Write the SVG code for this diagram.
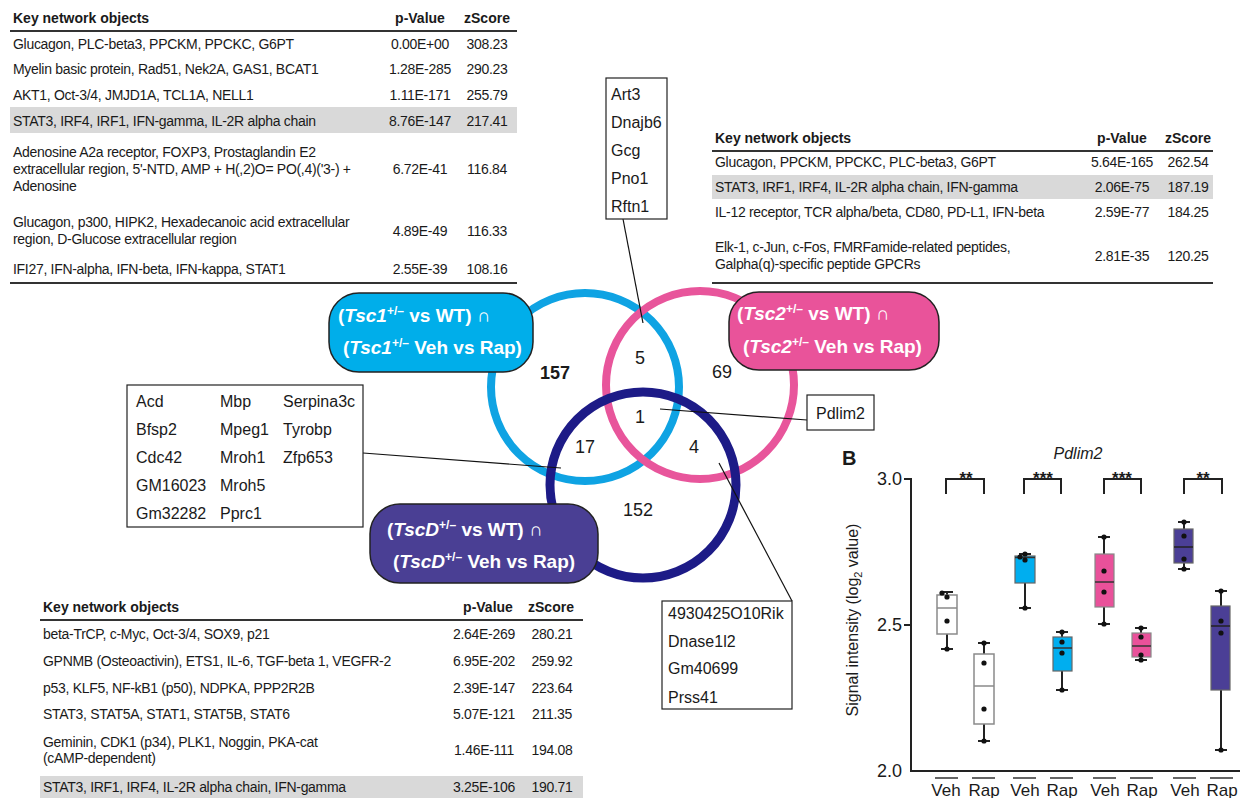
<svg xmlns="http://www.w3.org/2000/svg" width="1250" height="798" viewBox="0 0 1250 798">
<style>
text{font-family:"Liberation Sans",Arial,sans-serif;fill:#1a1a1a}
.t{font-size:14px;letter-spacing:-0.3px}
.h{font-size:14px;font-weight:bold}
.c{text-anchor:middle}
.rule{stroke:#333;stroke-width:2}
.band{fill:#d9d9d9}
.gene{font-size:16px}
.gbox{fill:#fff;stroke:#222;stroke-width:1.2}
.lbl{font-size:19px;font-weight:bold;fill:#fff}
.num{font-size:18px;text-anchor:middle}
.lead{stroke:#111;stroke-width:1.2;fill:none}
.ax{stroke:#222;stroke-width:2;fill:none}
.wh{stroke:#222;stroke-width:2;fill:none}
.dot{fill:#111}
.tick{font-size:18px;text-anchor:end}
.xl{font-size:17px;text-anchor:middle}
.star{font-size:17px;font-weight:bold;text-anchor:middle}
</style>

<!-- Table top-left -->
<g id="table-tsc1">
<text class="h" x="13" y="23">Key network objects</text>
<text class="h c" x="420" y="23">p-Value</text>
<text class="h c" x="487" y="23">zScore</text>
<line class="rule" x1="10" y1="31" x2="517" y2="31"/>
<rect class="band" x="10" y="107" width="507" height="26"/>
<text class="t" x="13" y="49">Glucagon, PLC-beta3, PPCKM, PPCKC, G6PT</text>
<text class="t c" x="420" y="49">0.00E+00</text><text class="t c" x="487" y="49">308.23</text>
<text class="t" x="13" y="74">Myelin basic protein, Rad51, Nek2A, GAS1, BCAT1</text>
<text class="t c" x="420" y="74">1.28E-285</text><text class="t c" x="487" y="74">290.23</text>
<text class="t" x="13" y="100">AKT1, Oct-3/4, JMJD1A, TCL1A, NELL1</text>
<text class="t c" x="420" y="100">1.11E-171</text><text class="t c" x="487" y="100">255.79</text>
<text class="t" x="13" y="126">STAT3, IRF4, IRF1, IFN-gamma, IL-2R alpha chain</text>
<text class="t c" x="420" y="126">8.76E-147</text><text class="t c" x="487" y="126">217.41</text>
<text class="t" x="13" y="157">Adenosine A2a receptor, FOXP3, Prostaglandin E2</text>
<text class="t" x="13" y="174">extracellular region, 5'-NTD, AMP + H(,2)O= PO(,4)('3-) +</text>
<text class="t" x="13" y="191">Adenosine</text>
<text class="t c" x="420" y="174">6.72E-41</text><text class="t c" x="487" y="174">116.84</text>
<text class="t" x="13" y="227">Glucagon, p300, HIPK2, Hexadecanoic acid extracellular</text>
<text class="t" x="13" y="244">region, D-Glucose extracellular region</text>
<text class="t c" x="420" y="236">4.89E-49</text><text class="t c" x="487" y="236">116.33</text>
<text class="t" x="13" y="274">IFI27, IFN-alpha, IFN-beta, IFN-kappa, STAT1</text>
<text class="t c" x="420" y="274">2.55E-39</text><text class="t c" x="487" y="274">108.16</text>
<line class="rule" x1="10" y1="283" x2="517" y2="283"/>
</g>

<!-- Table top-right -->
<g id="table-tsc2">
<text class="h" x="715" y="143">Key network objects</text>
<text class="h c" x="1122" y="143">p-Value</text>
<text class="h c" x="1188" y="143">zScore</text>
<line class="rule" x1="712" y1="151" x2="1213" y2="151"/>
<rect class="band" x="712" y="175" width="501" height="24"/>
<text class="t" x="715" y="167">Glucagon, PPCKM, PPCKC, PLC-beta3, G6PT</text>
<text class="t c" x="1122" y="167">5.64E-165</text><text class="t c" x="1188" y="167">262.54</text>
<text class="t" x="715" y="192">STAT3,  IRF1, IRF4, IL-2R alpha chain, IFN-gamma</text>
<text class="t c" x="1122" y="192">2.06E-75</text><text class="t c" x="1188" y="192">187.19</text>
<text class="t" x="715" y="217">IL-12 receptor, TCR alpha/beta, CD80, PD-L1, IFN-beta</text>
<text class="t c" x="1122" y="217">2.59E-77</text><text class="t c" x="1188" y="217">184.25</text>
<text class="t" x="715" y="252">Elk-1, c-Jun, c-Fos, FMRFamide-related peptides,</text>
<text class="t" x="715" y="269">Galpha(q)-specific peptide GPCRs</text>
<text class="t c" x="1122" y="261">2.81E-35</text><text class="t c" x="1188" y="261">120.25</text>
<line class="rule" x1="712" y1="283" x2="1213" y2="283"/>
</g>

<!-- Table bottom-left -->
<g id="table-tscd">
<text class="h" x="43" y="612">Key network objects</text>
<text class="h c" x="488" y="612">p-Value</text>
<text class="h c" x="551" y="612">zScore</text>
<line class="rule" x1="40" y1="620" x2="583" y2="620"/>
<rect class="band" x="40" y="776" width="543" height="22"/>
<text class="t" x="43" y="639">beta-TrCP, c-Myc, Oct-3/4, SOX9, p21</text>
<text class="t c" x="484" y="639">2.64E-269</text><text class="t c" x="552" y="639">280.21</text>
<text class="t" x="43" y="666">GPNMB (Osteoactivin), ETS1, IL-6, TGF-beta 1, VEGFR-2</text>
<text class="t c" x="484" y="666">6.95E-202</text><text class="t c" x="552" y="666">259.92</text>
<text class="t" x="43" y="693">p53, KLF5, NF-kB1 (p50), NDPKA, PPP2R2B</text>
<text class="t c" x="484" y="693">2.39E-147</text><text class="t c" x="552" y="693">223.64</text>
<text class="t" x="43" y="719">STAT3, STAT5A, STAT1, STAT5B, STAT6</text>
<text class="t c" x="484" y="719">5.07E-121</text><text class="t c" x="552" y="719">211.35</text>
<text class="t" x="43" y="747">Geminin, CDK1 (p34), PLK1, Noggin, PKA-cat</text>
<text class="t" x="43" y="763">(cAMP-dependent)</text>
<text class="t c" x="484" y="755">1.46E-111</text><text class="t c" x="552" y="755">194.08</text>
<text class="t" x="43" y="792">STAT3, IRF1, IRF4, IL-2R alpha chain, IFN-gamma</text>
<text class="t c" x="484" y="792">3.25E-106</text><text class="t c" x="552" y="792">190.71</text>
</g>

<!-- Venn circles -->
<g id="venn-tsc1"><circle cx="585" cy="387" r="94" fill="none" stroke="#0fa3e3" stroke-width="8"/></g>
<g id="venn-tsc2"><circle cx="700" cy="385" r="94" fill="none" stroke="#e8559b" stroke-width="8"/></g>
<g id="venn-tscd"><circle cx="643" cy="485" r="93" fill="none" stroke="#1d1b87" stroke-width="9"/></g>

<g id="venn-counts">
<text class="num" x="555" y="379" font-weight="bold">157</text>
<text class="num" x="640" y="364">5</text>
<text class="num" x="722" y="378">69</text>
<text class="num" x="640" y="423">1</text>
<text class="num" x="585" y="453">17</text>
<text class="num" x="694" y="453">4</text>
<text class="num" x="638" y="516">152</text>
</g>

<!-- connectors -->
<g id="connectors">
<line class="lead" x1="623" y1="219" x2="643" y2="323"/>
<line class="lead" x1="660" y1="409" x2="807" y2="420"/>
<line class="lead" x1="363" y1="453" x2="561" y2="468"/>
<line class="lead" x1="719" y1="463" x2="792" y2="601"/>
</g>

<!-- labels -->
<g id="label-tsc1">
<rect x="329" y="293" width="204" height="79" rx="30" fill="#00aeea" stroke="#222" stroke-width="1.5"/>
<text class="lbl" x="338" y="322">(<tspan font-style="italic">Tsc1</tspan><tspan font-size="12" dy="-7">+/–</tspan><tspan dy="7"> vs WT) ∩</tspan></text>
<text class="lbl" x="343" y="354">(<tspan font-style="italic">Tsc1</tspan><tspan font-size="12" dy="-7">+/–</tspan><tspan dy="7">  Veh vs Rap)</tspan></text>
</g>
<g id="label-tsc2">
<rect x="729" y="292" width="210" height="78" rx="30" fill="#e9539a" stroke="#222" stroke-width="1.5"/>
<text class="lbl" x="737" y="320">(<tspan font-style="italic">Tsc2</tspan><tspan font-size="12" dy="-7">+/–</tspan><tspan dy="7"> vs WT) ∩</tspan></text>
<text class="lbl" x="743" y="353">(<tspan font-style="italic">Tsc2</tspan><tspan font-size="12" dy="-7">+/–</tspan><tspan dy="7">  Veh vs Rap)</tspan></text>
</g>
<g id="label-tscd">
<rect x="370" y="504" width="228" height="79" rx="30" fill="#4a3f94" stroke="#222" stroke-width="1.5"/>
<text class="lbl" x="387" y="536">(<tspan font-style="italic">TscD</tspan><tspan font-size="12" dy="-7">+/–</tspan><tspan dy="7">  vs WT) ∩</tspan></text>
<text class="lbl" x="393" y="568">(<tspan font-style="italic">TscD</tspan><tspan font-size="12" dy="-7">+/–</tspan><tspan dy="7">  Veh vs Rap)</tspan></text>
</g>

<!-- gene boxes -->
<g id="genes-5">
<rect class="gbox" x="606" y="78" width="61" height="141"/>
<text class="gene" x="611" y="100">Art3</text>
<text class="gene" x="611" y="128">Dnajb6</text>
<text class="gene" x="611" y="156">Gcg</text>
<text class="gene" x="611" y="184">Pno1</text>
<text class="gene" x="611" y="212">Rftn1</text>
</g>
<g id="genes-17">
<rect class="gbox" x="127" y="385" width="236" height="142"/>
<text class="gene" x="136" y="407">Acd</text><text class="gene" x="220" y="407">Mbp</text><text class="gene" x="283" y="407">Serpina3c</text>
<text class="gene" x="136" y="435">Bfsp2</text><text class="gene" x="220" y="435">Mpeg1</text><text class="gene" x="283" y="435">Tyrobp</text>
<text class="gene" x="136" y="463">Cdc42</text><text class="gene" x="220" y="463">Mroh1</text><text class="gene" x="283" y="463">Zfp653</text>
<text class="gene" x="136" y="491">GM16023</text><text class="gene" x="220" y="491">Mroh5</text>
<text class="gene" x="136" y="519">Gm32282</text><text class="gene" x="220" y="519">Pprc1</text>
</g>
<g id="genes-1">
<rect class="gbox" x="807" y="395" width="67" height="35"/>
<text class="gene" x="840.5" y="419" text-anchor="middle">Pdlim2</text>
</g>
<g id="genes-4">
<rect class="gbox" x="662" y="601" width="130" height="108"/>
<text class="gene" x="668" y="619">4930425O10Rik</text>
<text class="gene" x="668" y="647">Dnase1l2</text>
<text class="gene" x="668" y="674">Gm40699</text>
<text class="gene" x="668" y="703">Prss41</text>
</g>

<!-- Panel B box plot -->
<g id="boxplot">
<text x="842" y="465" font-size="20" font-weight="bold">B</text>
<text x="1078" y="459" font-size="16" font-style="italic" text-anchor="middle">Pdlim2</text>
<text transform="translate(858,620) rotate(-90)" font-size="16" text-anchor="middle">Signal intensity (log<tspan font-size="11" dy="4">2</tspan><tspan dy="-4"> value)</tspan></text>
<path class="ax" d="M911,478 V771 H1240 M904,479 H911 M904,625 H911"/>
<text class="tick" x="902" y="485">3.0</text>
<text class="tick" x="902" y="631">2.5</text>
<text class="tick" x="902" y="777">2.0</text>

<!-- brackets -->
<path class="wh" stroke-width="1.6" d="M946,494 V479 H984 V494 M1024,494 V479 H1061 V494 M1104,494 V479 H1141 V494 M1184,494 V479 H1222 V494"/>
<text class="star" x="966" y="484">**</text>
<text class="star" x="1043" y="484">***</text>
<text class="star" x="1122" y="484">***</text>
<text class="star" x="1203" y="484">**</text>

<!-- whiskers -->
<path class="wh" d="M947,592 V649 M941,592 H953 M941,649 H953
M984,643 V741 M978,643 H990 M978,741 H990
M1025,554 V608 M1019,554 H1031 M1019,608 H1031
M1062,632 V690 M1056,632 H1068 M1056,690 H1068
M1104,537 V624 M1098,537 H1110 M1098,624 H1110
M1141,628 V660 M1135,628 H1147 M1135,660 H1147
M1184,522 V569 M1178,522 H1190 M1178,569 H1190
M1221,591 V750 M1215,591 H1227 M1215,750 H1227"/>

<!-- boxes -->
<rect x="937" y="595" width="20" height="39" fill="#fff" stroke="#8a8a8a" stroke-width="1.5"/>
<line x1="937" y1="608" x2="957" y2="608" stroke="#8a8a8a" stroke-width="1.5"/>
<rect x="974" y="654" width="20" height="70" fill="#fff" stroke="#8a8a8a" stroke-width="1.5"/>
<line x1="974" y1="686" x2="994" y2="686" stroke="#8a8a8a" stroke-width="1.5"/>
<rect x="1015" y="556" width="20" height="27" fill="#00aeef" stroke="#666" stroke-width="1.2"/>
<line x1="1015" y1="557.5" x2="1035" y2="557.5" stroke="#333" stroke-width="1.5"/>
<rect x="1053" y="637" width="19" height="34" fill="#00aeef" stroke="#666" stroke-width="1.2"/>
<line x1="1053" y1="648" x2="1072" y2="648" stroke="#333" stroke-width="1.5"/>
<rect x="1095" y="554" width="19" height="53" fill="#e9519a" stroke="#888" stroke-width="1.2"/>
<line x1="1095" y1="582" x2="1114" y2="582" stroke="#333" stroke-width="1.5"/>
<rect x="1132" y="633" width="19" height="24" fill="#e9519a" stroke="#888" stroke-width="1.2"/>
<line x1="1132" y1="646" x2="1151" y2="646" stroke="#333" stroke-width="1.5"/>
<rect x="1174" y="529" width="19" height="34" fill="#4b3f96" stroke="#666" stroke-width="1.2"/>
<line x1="1174" y1="547" x2="1193" y2="547" stroke="#222" stroke-width="1.5"/>
<rect x="1211" y="606" width="19" height="84" fill="#4b3f96" stroke="#666" stroke-width="1.2"/>
<line x1="1211" y1="626" x2="1230" y2="626" stroke="#222" stroke-width="1.5"/>

<!-- dots -->
<g class="dot">
<circle cx="942" cy="593" r="2.6"/><circle cx="947" cy="597" r="2.6"/><circle cx="947" cy="621" r="2.6"/><circle cx="947" cy="649" r="2.6"/>
<circle cx="984" cy="643" r="2.6"/><circle cx="984" cy="663" r="2.6"/><circle cx="984" cy="709" r="2.6"/><circle cx="984" cy="741" r="2.6"/>
<circle cx="1020" cy="557" r="2.6"/><circle cx="1025" cy="554" r="2.6"/><circle cx="1025" cy="560" r="2.6"/><circle cx="1025" cy="608" r="2.6"/>
<circle cx="1062" cy="632" r="2.6"/><circle cx="1062" cy="642" r="2.6"/><circle cx="1062" cy="653" r="2.6"/><circle cx="1062" cy="690" r="2.6"/>
<circle cx="1104" cy="537" r="2.6"/><circle cx="1104" cy="571" r="2.6"/><circle cx="1104" cy="592" r="2.6"/><circle cx="1104" cy="624" r="2.6"/>
<circle cx="1141" cy="628" r="2.6"/><circle cx="1141" cy="637" r="2.6"/><circle cx="1141" cy="655" r="2.6"/><circle cx="1141" cy="660" r="2.6"/>
<circle cx="1184" cy="522" r="2.6"/><circle cx="1184" cy="536" r="2.6"/><circle cx="1184" cy="559" r="2.6"/><circle cx="1184" cy="569" r="2.6"/>
<circle cx="1221" cy="591" r="2.6"/><circle cx="1221" cy="621" r="2.6"/><circle cx="1221" cy="633" r="2.6"/><circle cx="1221" cy="750" r="2.6"/>
</g>

<!-- x labels -->
<path stroke="#333" stroke-width="1.5" d="M935,778 H958 M972,778 H995 M1013,778 H1036 M1050,778 H1073 M1093,778 H1116 M1130,778 H1153 M1173,778 H1196 M1210,778 H1233"/>
<text class="xl" x="946" y="796">Veh</text><text class="xl" x="984" y="796">Rap</text>
<text class="xl" x="1025" y="796">Veh</text><text class="xl" x="1062" y="796">Rap</text>
<text class="xl" x="1105" y="796">Veh</text><text class="xl" x="1142" y="796">Rap</text>
<text class="xl" x="1185" y="796">Veh</text><text class="xl" x="1222" y="796">Rap</text>
</g>
</svg>
